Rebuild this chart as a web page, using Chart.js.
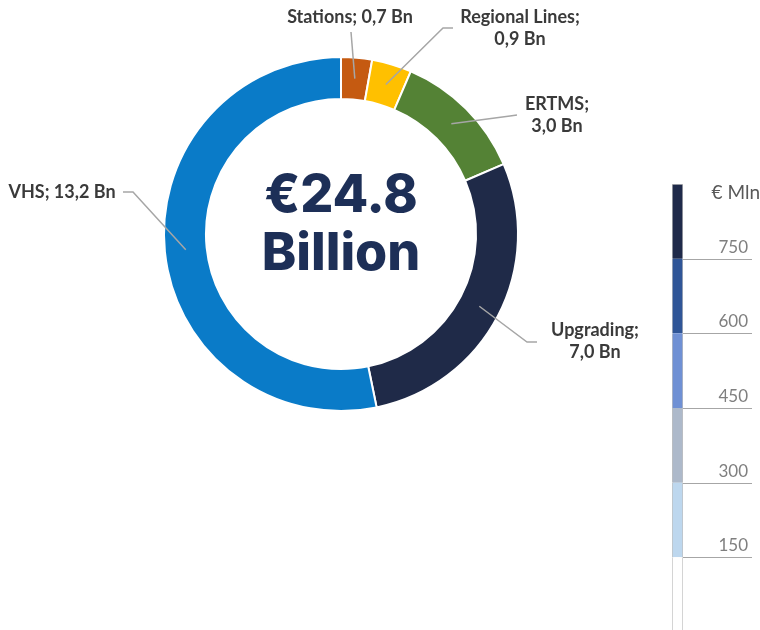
<!DOCTYPE html>
<html lang="en">
<head>
<meta charset="UTF-8">
<title>Investment breakdown</title>
<script src="https://cdn.jsdelivr.net/npm/chart.js@4.4.5/dist/chart.umd.min.js"></script>
<style>
    html, body { margin: 0; padding: 0; background: #fff; overflow: hidden; }
    #wrap { position: relative; width: 760px; height: 630px; }
    #donut { position: absolute; left: 0; top: 0; }
    #scaleBar { position: absolute; left: 640px; top: 170px; }
</style>
</head>
<body>
<div id="wrap">
    <canvas id="donut" width="760" height="630"></canvas>
    <canvas id="scaleBar" width="120" height="470"></canvas>
</div>

<script>
    // investment split, billions of euro
    const categories = ['Stations', 'Regional Lines', 'ERTMS', 'Upgrading', 'VHS'];
    const amountsBn = [0.7, 0.9, 3.0, 7.0, 13.2];
    const sliceColors = ['#c55a11', '#ffc000', '#548235', '#1f2a48', '#0a7bc8'];

    // colour key on the right, millions of euro
    const bandSizes = [150, 150, 150, 150, 150, 150];
    const bandColors = ['#ffffff', '#bdd7ee', '#adb9ca', '#6f90d4', '#2f5597', '#1f2a4a'];
    const tickValues = [150, 300, 450, 600, 750];
    const unitLabel = '€ Mln';

    // where each callout text sits, and where its leader line leaves the text
    const callouts = [
        { x: 350, y: 17, split: false, start: [351, 32], bend: null },
        { x: 520, y: 17, split: true, start: [453, 28], bend: [443, 28] },
        { x: 557, y: 104, split: true, start: [517, 115], bend: [510, 116] },
        { x: 595, y: 330, split: true, start: [537, 342], bend: [527, 342] },
        { x: 62, y: 192, split: false, start: [123, 192], bend: [133, 192] }
    ];

    function fmt(v) {
        return v.toFixed(1).replace('.', ',') + ' Bn';
    }

    const calloutPlugin = {
        id: 'callouts',
        afterDraw(chart) {
            const ctx = chart.ctx;
            const arcs = chart.getDatasetMeta(0).data;
            ctx.save();
            ctx.strokeStyle = '#a6a6a6';
            ctx.lineWidth = 1.5;
            arcs.forEach((arc, i) => {
                const c = callouts[i];
                const p = arc.getCenterPoint();
                ctx.beginPath();
                ctx.moveTo(c.start[0], c.start[1]);
                if (c.bend) ctx.lineTo(c.bend[0], c.bend[1]);
                ctx.lineTo(p.x, p.y);
                ctx.stroke();

                ctx.fillStyle = '#3a3a3a';
                ctx.font = 'bold 18px Lato';
                ctx.textAlign = 'center';
                ctx.textBaseline = 'middle';
                if (c.split) {
                    ctx.fillText(categories[i] + ';', c.x, c.y);
                    ctx.fillText(fmt(amountsBn[i]), c.x, c.y + 22);
                } else {
                    ctx.fillText(categories[i] + '; ' + fmt(amountsBn[i]), c.x, c.y);
                }
            });

            // total in the hole
            const total = amountsBn.reduce((a, b) => a + b, 0);
            const cx = (chart.chartArea.left + chart.chartArea.right) / 2;
            const cy = (chart.chartArea.top + chart.chartArea.bottom) / 2;
            ctx.fillStyle = '#1d2f57';
            ctx.font = '800 52px Inter';
            ctx.textAlign = 'center';
            ctx.textBaseline = 'alphabetic';
            ctx.fillText('€' + total.toFixed(1), cx, cy - 22);
            ctx.fillText('Billion', cx, cy + 36);
            ctx.restore();
        }
    };

    new Chart(document.getElementById('donut'), {
        type: 'doughnut',
        data: {
            labels: categories,
            datasets: [{
                data: amountsBn,
                backgroundColor: sliceColors,
                borderColor: '#ffffff',
                borderWidth: 2
            }]
        },
        options: {
            responsive: false,
            animation: false,
            radius: 177,
            cutout: '76.3%',
            layout: { padding: { left: 0, top: 0, right: 78, bottom: 162 } },
            plugins: {
                legend: { display: false },
                tooltip: { enabled: false }
            }
        },
        plugins: [calloutPlugin]
    });

    const scaleMarks = {
        id: 'scaleMarks',
        afterDraw(chart) {
            const ctx = chart.ctx;
            const y = chart.scales.y;
            const right = chart.chartArea.right;
            ctx.save();
            ctx.strokeStyle = '#a6a6a6';
            ctx.lineWidth = 1;
            ctx.fillStyle = '#7f7f7f';
            ctx.font = '17px Lato';
            ctx.textAlign = 'right';
            ctx.textBaseline = 'alphabetic';
            tickValues.forEach(v => {
                const py = Math.round(y.getPixelForValue(v)) + 0.5;
                ctx.beginPath();
                ctx.moveTo(right, py);
                ctx.lineTo(112, py);
                ctx.stroke();
                ctx.fillText(String(v), 108, py - 7);
            });
            ctx.fillStyle = '#595959';
            ctx.font = '19px Lato';
            ctx.textBaseline = 'middle';
            ctx.fillText(unitLabel, 120, 23);
            ctx.restore();
        }
    };

    new Chart(document.getElementById('scaleBar'), {
        type: 'bar',
        data: {
            labels: [''],
            datasets: bandSizes.map((v, i) => ({
                data: [v],
                backgroundColor: bandColors[i],
                borderColor: '#bfbfbf',
                borderWidth: { left: 1, right: 1, top: i === bandSizes.length - 1 ? 1 : 0, bottom: 0 },
                borderSkipped: false,
                barPercentage: 1,
                categoryPercentage: 1
            }))
        },
        options: {
            responsive: false,
            animation: false,
            layout: { padding: { left: 32, right: 77, top: 14, bottom: 8 } },
            scales: {
                x: { display: false, stacked: true },
                y: { display: false, stacked: true, min: 0, max: 900 }
            },
            plugins: {
                legend: { display: false },
                tooltip: { enabled: false }
            }
        },
        plugins: [scaleMarks]
    });
</script>
</body>
</html>
